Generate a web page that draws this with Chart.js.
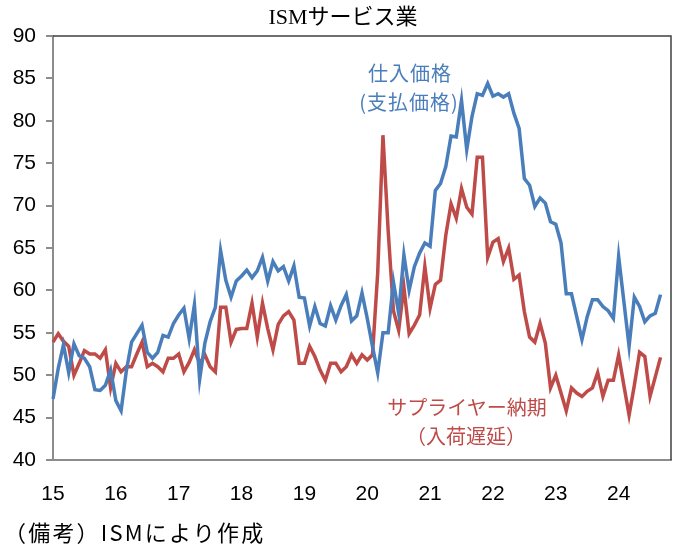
<!DOCTYPE html>
<html>
<head>
<meta charset="utf-8">
<script src="https://cdn.jsdelivr.net/npm/chart.js@4/dist/chart.umd.min.js"></script>
<style>
  body { margin: 0; background: #fff; }
  #wrap { position: relative; width: 679px; height: 548px; }
  .txt { position: absolute; white-space: nowrap; font-family: "Noto Sans CJK JP", sans-serif; }
</style>
</head>
<body>
<div id="wrap">
  <canvas id="myChart"></canvas>
  <div class="txt" id="title" style="left:343px; top:-2px; transform:translateX(-50%); font-size:22px; color:#000;"><span style="font-family:'Liberation Serif',serif;">ISM</span>サービス業</div>
  <div class="txt" style="left:410px; top:58px; transform:translateX(-50%); font-size:20px; letter-spacing:1px; color:#4A7EBB;">仕入価格</div>
  <div class="txt" style="left:409px; top:87px; transform:translateX(-50%); font-size:20px; letter-spacing:1px; color:#4A7EBB;">(支払価格)</div>
  <div class="txt" style="left:467px; top:392px; transform:translateX(-50%); font-size:20px; color:#BE4B48;">サプライヤー納期</div>
  <div class="txt" style="left:466px; top:421px; transform:translateX(-50%); font-size:20px; color:#BE4B48;">（入荷遅延）</div>
  <div class="txt" style="left:4px; top:515px; font-size:22px; letter-spacing:2.2px; color:#000;">（備考）ISMにより作成</div>
</div>
<script>
// 月次データ 2015年1月〜2024年9月
var years = [2015, 2016, 2017, 2018, 2019, 2020, 2021, 2022, 2023, 2024];

// 仕入価格（支払価格）
var prices = [
  47.2, 50.8, 53.6, 50.3, 53.7, 52.3, 52.0, 51.0, 48.3, 48.2, 48.8, 50.6,
  47.0, 45.8, 50.5, 53.9, 54.9, 55.9, 52.7, 52.0, 52.7, 54.7, 54.5, 56.1,
  57.1, 57.9, 54.3, 58.3, 49.5, 53.8, 56.3, 58.0, 64.7, 61.2, 59.2, 61.1,
  61.7, 62.4, 61.5, 62.3, 63.9, 61.1, 63.4, 62.3, 62.8, 61.1, 62.9, 59.2,
  59.1, 55.8, 58.1, 56.1, 55.8, 58.2, 56.5, 58.2, 59.5, 56.4, 57.0, 59.7,
  56.7, 53.4, 50.3, 55.0, 55.0, 61.0, 57.3, 64.2, 60.0, 62.8, 64.4, 65.6,
  65.2, 71.8, 72.6, 74.6, 78.2, 78.1, 82.4, 76.6, 80.5, 83.2, 83.0, 84.4,
  82.9, 83.2, 82.8, 83.2, 80.9, 79.1, 73.2, 72.4, 69.9, 70.9, 70.3, 68.1,
  67.8, 65.6, 59.6, 59.6, 56.9, 54.2, 56.9, 58.9, 58.9, 58.1, 57.6, 56.7,
  64.0, 58.7, 53.4, 59.2, 58.1, 56.3, 57.0, 57.3, 59.5
];

// サプライヤー納期（入荷遅延）
var deliveries = [
  53.9, 54.9, 54.0, 53.4, 50.0, 51.4, 52.9, 52.5, 52.5, 52.0, 53.0, 48.5,
  51.4, 50.4, 51.0, 51.0, 52.5, 53.9, 51.0, 51.4, 51.0, 50.4, 52.0, 52.0,
  52.5, 50.4, 51.5, 53.0, 51.4, 52.4, 51.0, 50.4, 58.0, 58.0, 53.9, 55.4,
  55.5, 55.5, 58.5, 54.5, 58.5, 55.5, 53.0, 56.0, 57.0, 57.5, 56.5, 51.4,
  51.4, 53.4, 52.2, 50.6, 49.4, 51.4, 51.4, 50.4, 51.0, 52.4, 51.4, 52.4,
  51.8, 52.4, 62.1, 78.3, 67.0, 57.6, 55.3, 60.4, 54.9, 55.9, 57.1, 62.8,
  57.9, 60.7, 61.2, 66.5, 70.2, 68.5, 72.0, 69.8, 69.0, 75.7, 75.7, 63.9,
  65.7, 66.1, 63.4, 65.0, 61.3, 61.8, 57.5, 54.5, 53.9, 56.1, 53.8, 48.5,
  50.0, 47.9, 45.8, 48.5, 47.9, 47.5, 48.1, 48.5, 50.3, 47.5, 49.4, 49.4,
  52.4, 48.8, 45.3, 48.8, 52.7, 52.2, 47.5, 49.8, 52.1
];

// 横軸は2024年11月まで（右側に余白）
var months = [];
for (var y = 0; y < years.length; y++) {
  for (var m = 1; m <= 12; m++) {
    if (years[y] == 2024 && m > 11) break;
    months.push(years[y] + '-' + (m < 10 ? '0' + m : m));
  }
}

var yTicks = { min: 40, max: 90, step: 5 };

// 上と右の枠線
var frame = {
  id: 'frame',
  afterDraw: function (chart) {
    var a = chart.chartArea, c = chart.ctx;
    c.save();
    c.strokeStyle = '#404040';
    c.lineWidth = 1.5;
    c.beginPath();
    c.moveTo(a.left, a.top);
    c.lineTo(a.right, a.top);
    c.lineTo(a.right, a.bottom);
    c.stroke();
    c.restore();
  }
};

var ctx = document.getElementById('myChart').getContext('2d');
var chart = new Chart(ctx, {
  type: 'line',
  data: {
    labels: months,
    datasets: [{
      label: '仕入価格',
      data: prices,
      borderColor: '#4A7EBB',
      borderWidth: 3.5,
      pointRadius: 0,
      tension: 0
    }, {
      label: 'サプライヤー納期',
      data: deliveries,
      borderColor: '#BE4B48',
      borderWidth: 3.5,
      pointRadius: 0,
      tension: 0
    }]
  },
  options: {
    responsive: true,
    maintainAspectRatio: false,
    animation: false,
    layout: { padding: { top: 36, right: 8, left: 0, bottom: 0 } },
    plugins: {
      legend: { display: false },
      tooltip: { enabled: false }
    },
    scales: {
      x: {
        type: 'category',
        offset: false,
        grid: { display: false },
        border: { color: '#8C8C8C', width: 2 },
        ticks: {
          autoSkip: false,
          maxRotation: 0,
          padding: 14,
          color: '#000',
          font: { family: "'Liberation Sans Narrow', 'Liberation Sans', sans-serif", size: 21 },
          callback: function (value, index) {
            var lab = months[index];
            return lab.slice(5) == '01' ? lab.slice(2, 4) : null;
          }
        },
        afterFit: function (scale) { scale.height = 88; }
      },
      y: {
        min: yTicks.min,
        max: yTicks.max,
        grid: { display: true, drawOnChartArea: false, drawTicks: true, tickLength: 7, color: '#8C8C8C', lineWidth: 2 },
        border: { color: '#8C8C8C', width: 2 },
        ticks: {
          stepSize: yTicks.step,
          padding: 10,
          color: '#000',
          font: { family: "'Liberation Sans Narrow', 'Liberation Sans', sans-serif", size: 21 }
        },
        afterFit: function (scale) { scale.width = 53; }
      }
    }
  },
  plugins: [frame]
});
</script>
</body>
</html>
